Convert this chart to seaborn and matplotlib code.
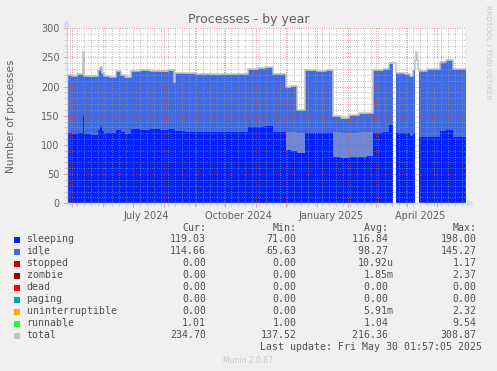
import matplotlib
matplotlib.use("Agg")
import matplotlib.pyplot as plt
import matplotlib.dates as mdates
from matplotlib.patches import Rectangle
import numpy as np
import pandas as pd
import seaborn as sns

nan = np.nan

# breakpoints (values hold until the next date)
dates = ["2024-04-26", "2024-05-01", "2024-05-06", "2024-05-12", "2024-05-13",
         "2024-05-19", "2024-05-27", "2024-05-29", "2024-05-31", "2024-06-02",
         "2024-06-08", "2024-06-14", "2024-06-19", "2024-06-23", "2024-06-29",
         "2024-07-08", "2024-07-18", "2024-07-28", "2024-08-05", "2024-08-11",
         "2024-08-12", "2024-08-22", "2024-09-02", "2024-09-15", "2024-10-01",
         "2024-10-12", "2024-10-24", "2024-11-03", "2024-11-10", "2024-11-18",
         "2024-12-01", "2024-12-06", "2024-12-12", "2024-12-20", "2025-01-01",
         "2025-01-10", "2025-01-17", "2025-01-25", "2025-02-02", "2025-02-12",
         "2025-02-20", "2025-02-26", "2025-03-08", "2025-03-14", "2025-03-18",
         "2025-03-18", "2025-03-21", "2025-03-30", "2025-04-04", "2025-04-07",
         "2025-04-09", "2025-04-09", "2025-04-10", "2025-04-11", "2025-04-12",
         "2025-04-13", "2025-04-21", "2025-05-04", "2025-05-10", "2025-05-17",
         "2025-05-30"]
sleeping = [120, 119, 120, 151, 118, 117, 126, 130, 124, 121,
            120, 125, 122, 118, 127, 126, 127, 126, 128, 126,
            124, 123, 123, 122, 122, 123, 130, 131, 132, 123,
            91, 90, 86, 121, 120, 121, 79, 77, 79, 80,
            81, 121, 123, 134, 134, nan, 121, 120, 116, 121,
            121, nan, nan, nan, nan, 114, 114, 124, 126, 114,
            115]
# lighter band drawn above sleeping during the two dips
light = [0, 0, 0, 0, 0, 0, 0, 0, 0, 0,
         0, 0, 0, 0, 0, 0, 0, 0, 0, 0,
         0, 0, 0, 0, 0, 0, 0, 0, 0, 0,
         32, 33, 34, 0, 0, 0, 43, 44, 42, 42,
         41, 0, 0, 0, 0, nan, 0, 0, 0, 0,
         0, nan, nan, nan, nan, 0, 0, 0, 0, 0,
         0]
idle = [99, 99, 100, 80, 100, 100, 101, 102, 98, 97,
        96, 100, 97, 97, 99, 101, 99, 99, 99, 99,
        99, 99, 98, 98, 98, 98, 99, 100, 100, 98,
        107, 110, 73, 106, 106, 107, 70, 68, 72, 73,
        73, 106, 107, 105, 105, nan, 102, 101, 101, 107,
        107, nan, nan, nan, nan, 112, 115, 118, 118, 116,
        116]
runnable = [1.0, 1.0, 1.0, 1.0, 1.0, 1.0, 1.1, 1.0, 1.0, 1.0,
            1.0, 1.0, 1.0, 1.0, 1.0, 1.0, 1.0, 1.0, 1.0, 1.0,
            1.0, 1.0, 1.0, 1.0, 1.0, 1.0, 1.0, 1.0, 1.0, 1.0,
            1.0, 1.0, 1.0, 1.0, 1.0, 1.0, 1.0, 1.0, 1.0, 1.0,
            1.0, 1.0, 1.0, 1.1, 1.1, nan, 1.0, 1.0, 1.0, 1.0,
            1.0, nan, nan, nan, nan, 1.0, 1.0, 1.0, 1.0, 1.0,
            1.0]
total = [220, 219, 221, 260, 219, 218, 228, 233, 223, 219,
         217, 226, 220, 216, 227, 228, 227, 226, 228, 208,
         224, 223, 222, 221, 221, 222, 230, 232, 233, 222,
         199, 201, 160, 228, 227, 229, 150, 146, 152, 154,
         155, 228, 231, 240, 240, nan, 224, 222, 218, 229,
         229, 245, 260, 245, 230, 227, 230, 243, 245, 231,
         232]

legend_names = ["sleeping", "idle", "stopped", "zombie", "dead", "paging",
                "uninterruptible", "runnable", "total"]
legend_colors = ["#0022ff", "#4169e1", "#cc0000", "#990000", "#ff0000",
                 "#00aaaa", "#ffa500", "#22ff22", "#c0c0c0"]
cur_vals = ["119.03", "114.66", "0.00", "0.00", "0.00", "0.00", "0.00", "1.01", "234.70"]
min_vals = ["71.00", "65.63", "0.00", "0.00", "0.00", "0.00", "0.00", "1.00", "137.52"]
avg_vals = ["116.84 ", "98.27 ", "10.92u", "1.85m", "0.00 ", "0.00 ", "5.91m", "1.04 ", "216.36 "]
max_vals = ["198.00", "145.27", "1.17", "2.37", "0.00", "0.00", "2.32", "9.54", "308.87"]

df = pd.DataFrame({"date": pd.to_datetime(dates) + pd.Timedelta(hours=2),
                   "sleeping": sleeping, "light": light, "idle": idle,
                   "runnable": runnable, "total": total})

W, H = 497, 371
BG = "#f0f0f0"
TXT = "#606060"
AXIS = "#cfd6f8"

sns.set_theme(style="white")
plt.rcParams["font.family"] = ["DejaVu Sans"]

fig = plt.figure(figsize=(W / 100, H / 100), dpi=100, facecolor=BG)
x0, x1, ytop, ybot = 66.7, 465.7, 28.3, 203.3
ax = fig.add_axes([x0 / W, 1 - ybot / H, (x1 - x0) / W, (ybot - ytop) / H])
ax.set_facecolor("white")

t = df["date"]
s = df["sleeping"]
l = df["light"]
i = df["idle"]
r = df["runnable"]

ax.fill_between(t, 0, s, step="post", color="#0022ff", lw=0, zorder=1)
ax.fill_between(t, s, s + l, step="post", color="#6f86d6", lw=0, zorder=1)
ax.fill_between(t, s + l, s + i, step="post", color="#4169e1", lw=0, zorder=1)
ax.fill_between(t, s + i, s + i + r, step="post", color="#22ff22", lw=0, zorder=1)
sns.lineplot(data=df, x="date", y="total", ax=ax, color="#c0c0c0", lw=1.1,
             drawstyle="steps-post", estimator=None, zorder=3)

start = pd.Timestamp("2024-04-26 02:00")
end = pd.Timestamp("2025-05-30 02:00")
ax.set_xlim(start, end)
ax.set_ylim(0, 300)
ax.axvline(end, color="#999999", lw=1.0, zorder=4)

# grid like rrdtool: red majors, grey minors, dotted and drawn over the areas
ax.set_axisbelow(False)
ax.xaxis.set_major_locator(mdates.MonthLocator())
ax.xaxis.set_minor_locator(mdates.WeekdayLocator(byweekday=mdates.MO))
ax.yaxis.set_major_locator(plt.MultipleLocator(50))
ax.yaxis.set_minor_locator(plt.MultipleLocator(10))
ax.grid(which="major", color=(0.87, 0.31, 0.31, 0.4), ls=(0, (1, 2)), lw=0.55)
ax.grid(which="minor", color=(0.6, 0.6, 0.6, 0.35), ls=(0, (1, 2)), lw=0.55)
ax.set_xticklabels([])
ax.tick_params(which="major", axis="x", length=3, color="#eaa0a0", width=0.7, direction="out", bottom=True)
ax.tick_params(which="minor", axis="x", length=2, color="#c8c8c8", width=0.7, direction="out", bottom=True)
ax.tick_params(which="major", axis="y", length=3, color="#eaa0a0", width=0.7, direction="out",
               left=True, labelsize=7, labelcolor=TXT, pad=2)
ax.tick_params(which="minor", axis="y", length=2, color="#c8c8c8", width=0.7, direction="out", left=True)

for side in ["top", "right"]:
    ax.spines[side].set_visible(False)
for side in ["left", "bottom"]:
    ax.spines[side].set_color(AXIS)
    ax.spines[side].set_linewidth(1.0)
ax.set_xlabel("")
ax.set_ylabel("")

for d, lab in [("2024-07-15", "July 2024"), ("2024-10-15", "October 2024"),
               ("2025-01-15", "January 2025"), ("2025-04-15", "April 2025")]:
    ax.text(pd.Timestamp(d), -0.045, lab, transform=ax.get_xaxis_transform(),
            ha="center", va="top", fontsize=7, color=TXT)


def ftext(x, y, s, **kw):
    fig.text(x / W, 1 - y / H, s, **kw)


# axis arrows
fig.patches.append(plt.Polygon([[(x0 - 3.5) / W, 1 - 27 / H], [(x0 + 3.5) / W, 1 - 27 / H],
                                [x0 / W, 1 - 20 / H]], closed=True, transform=fig.transFigure,
                               color=AXIS, lw=0))
fig.patches.append(plt.Polygon([[(x1 + 1) / W, 1 - (ybot - 3.5) / H], [(x1 + 1) / W, 1 - (ybot + 3.5) / H],
                                [(x1 + 8) / W, 1 - ybot / H]], closed=True, transform=fig.transFigure,
                               color=AXIS, lw=0))

ftext(248.5, 19, "Processes - by year", ha="center", va="center", fontsize=9, color=TXT)
ftext(11, 116, "Number of processes", ha="center", va="center", rotation=90, fontsize=7.7, color=TXT)
ftext(488, 5, "RRDTOOL / TOBI OETIKER", ha="center", va="top", rotation=270, fontsize=5.3, color="#c8c8c8")

mono = dict(family="DejaVu Sans Mono", fontsize=7.1, color="#505050", va="center")
ftext(206, 227.7, "Cur:", ha="right", **mono)
ftext(296.7, 227.7, "Min:", ha="right", **mono)
ftext(393.5, 227.7, "Avg: ", ha="right", **mono)
ftext(476.7, 227.7, "Max:", ha="right", **mono)
for k, name in enumerate(legend_names):
    y = 239.5 + 12 * k
    fig.patches.append(Rectangle((14 / W, 1 - (y + 3) / H), 6 / W, 6 / H, transform=fig.transFigure,
                                 facecolor=legend_colors[k], edgecolor="none"))
    ftext(26.5, y, name, ha="left", **mono)
    ftext(206, y, cur_vals[k], ha="right", **mono)
    ftext(296.7, y, min_vals[k], ha="right", **mono)
    ftext(393.5, y, avg_vals[k], ha="right", **mono)
    ftext(476.7, y, max_vals[k], ha="right", **mono)
ftext(482, 347.3, "Last update: Fri May 30 01:57:05 2025", ha="right", **mono)
ftext(248, 360.5, "Munin 2.0.67", ha="center", va="center", fontsize=5.5, color="#c8c8c8")

fig.savefig("out.png", dpi=100, facecolor=BG)
